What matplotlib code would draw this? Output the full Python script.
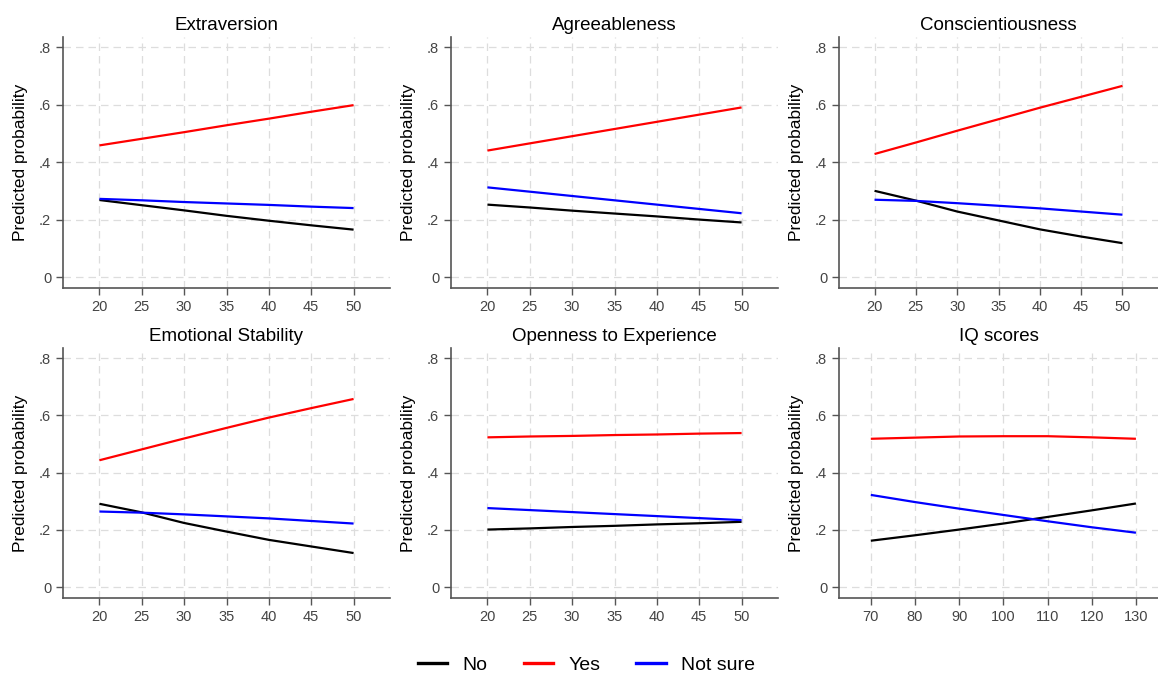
import matplotlib
matplotlib.use("Agg")
import matplotlib.pyplot as plt
from matplotlib.lines import Line2D

plt.rcParams['font.family'] = ['Liberation Sans', 'DejaVu Sans']

titles = ["Extraversion", "Agreeableness", "Conscientiousness",
          "Emotional Stability", "Openness to Experience", "IQ scores"]

x_trait = [20, 25, 30, 35, 40, 45, 50]
x_iq = [70, 80, 90, 100, 110, 120, 130]

no_vals = [
    [0.268, 0.250, 0.232, 0.213, 0.196, 0.180, 0.165],
    [0.252, 0.242, 0.231, 0.221, 0.211, 0.200, 0.190],
    [0.300, 0.266, 0.228, 0.197, 0.166, 0.141, 0.118],
    [0.291, 0.261, 0.224, 0.194, 0.165, 0.142, 0.119],
    [0.201, 0.205, 0.210, 0.214, 0.219, 0.223, 0.228],
    [0.162, 0.181, 0.201, 0.222, 0.245, 0.268, 0.292],
]
yes_vals = [
    [0.458, 0.481, 0.504, 0.528, 0.551, 0.575, 0.598],
    [0.440, 0.465, 0.490, 0.515, 0.540, 0.565, 0.590],
    [0.428, 0.468, 0.509, 0.549, 0.589, 0.627, 0.665],
    [0.443, 0.481, 0.519, 0.556, 0.592, 0.625, 0.657],
    [0.523, 0.526, 0.528, 0.531, 0.533, 0.536, 0.538],
    [0.518, 0.522, 0.526, 0.527, 0.527, 0.523, 0.518],
]
notsure_vals = [
    [0.272, 0.267, 0.261, 0.256, 0.251, 0.245, 0.240],
    [0.312, 0.297, 0.282, 0.267, 0.252, 0.237, 0.222],
    [0.269, 0.265, 0.257, 0.248, 0.239, 0.228, 0.217],
    [0.264, 0.260, 0.254, 0.247, 0.240, 0.231, 0.222],
    [0.276, 0.269, 0.262, 0.255, 0.248, 0.241, 0.234],
    [0.322, 0.297, 0.274, 0.252, 0.230, 0.209, 0.190],
]

series_names = ["No", "Yes", "Not sure"]
series_colors = ["#000000", "#ff0000", "#0000ff"]

yticks = [0, 0.2, 0.4, 0.6, 0.8]
ytick_labels = ["0", ".2", ".4", ".6", ".8"]
xticks_trait = [20, 25, 30, 35, 40, 45, 50]
xticks_iq = [70, 80, 90, 100, 110, 120, 130]

W, H = 1158, 675
fig = plt.figure(figsize=(W / 100, H / 100), dpi=100)

lefts = [63, 451, 839]
rights = [390, 778, 1158]
tops = [37, 348]
bottoms = [288, 598]

gray = "#555555"
for i in range(6):
    r, c = divmod(i, 3)
    l, rr = lefts[c], rights[c]
    t, b = tops[r], bottoms[r]
    ax = fig.add_axes([l / W, 1 - b / H, (rr - l) / W, (b - t) / H])
    if i == 5:
        xs = x_iq
        xt = xticks_iq
        ax.set_xlim(62.8, 135.0)
    else:
        xs = x_trait
        xt = xticks_trait
        ax.set_xlim(15.7, 54.3)
    ax.set_ylim(-0.038, 0.835)
    for vals, col in zip([no_vals[i], yes_vals[i], notsure_vals[i]], series_colors):
        ax.plot(xs, vals, color=col, lw=1.6, solid_capstyle='butt')
    ax.set_xticks(xt)
    ax.set_yticks(yticks)
    ax.set_yticklabels(ytick_labels)
    ax.grid(True, color="#dddddd", linestyle=(0, (6, 4)), lw=0.9)
    ax.set_axisbelow(True)
    for s in ["top", "right"]:
        ax.spines[s].set_visible(False)
    for s in ["left", "bottom"]:
        ax.spines[s].set_color(gray)
        ax.spines[s].set_linewidth(1.2)
    ax.tick_params(colors=gray, labelcolor="#444444", labelsize=10.5, length=5, width=1)
    ax.set_ylabel("Predicted probability", fontsize=12.5, labelpad=8)
    ax.set_title(titles[i], fontsize=13.5, pad=5)

handles = [Line2D([], [], color=c, lw=2.4) for c in series_colors]
fig.legend(handles, series_names, loc="center", bbox_to_anchor=(0.5065, 1 - 665 / H),
           ncol=3, frameon=False, fontsize=14, handlelength=1.5, columnspacing=1.85,
           handletextpad=0.8)

fig.savefig("out.png", dpi=100)
